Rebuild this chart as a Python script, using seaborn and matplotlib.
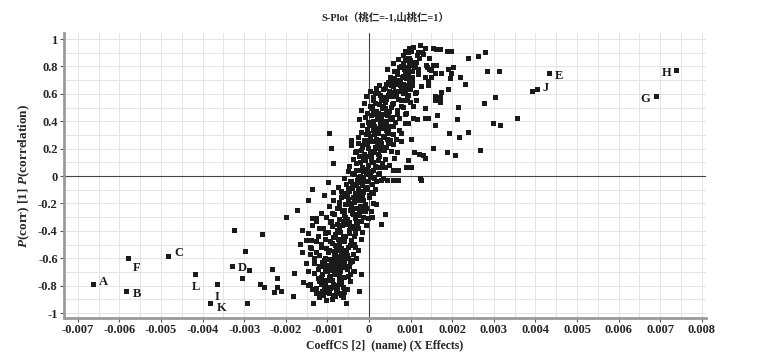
import matplotlib
matplotlib.use("Agg")
import matplotlib.pyplot as plt
import matplotlib.ticker as mticker
import numpy as np
import pandas as pd
import seaborn as sns

# x values are CoeffCS in units of 1e-3, y values are p(corr)
# lower tail of the S (y < -0.85)
tail_low_x = [-1.34, -1.18, -1.10, -1.02, -0.95, -0.88, -0.80, -0.72, -0.62, -0.54, -1.25, -0.98, -0.85, -0.66]
tail_low_y = [-0.93, -0.89, -0.87, -0.91, -0.86, -0.90, -0.88, -0.86, -0.89, -0.93, -0.86, -0.85, -0.87, -0.87]

core_n8_x = [-1.57, -1.45, -1.35, -1.27, -1.20, -1.12, -1.05, -0.98, -0.92, -0.85, -0.78, -0.70, -0.62, -0.52, -0.45,
             -1.15, -1.00, -0.88, -0.75, -0.95, -1.08, -0.65, -0.23]
core_n8_y = [-0.78, -0.80, -0.83, -0.82, -0.77, -0.84, -0.80, -0.76, -0.82, -0.79, -0.84, -0.78, -0.81, -0.83, -0.77,
             -0.79, -0.84, -0.76, -0.80, -0.81, -0.78, -0.76, -0.84]

core_n7_x = [-1.45, -1.30, -1.22, -1.14, -1.05, -0.98, -0.92, -0.86, -0.80, -0.74, -0.68, -0.60, -0.52, -0.44, -0.36,
             -1.10, -0.95, -0.82, -0.70, -0.58, -1.00, -0.77, -0.88, -0.48, -0.19]
core_n7_y = [-0.70, -0.71, -0.68, -0.74, -0.70, -0.66, -0.73, -0.69, -0.72, -0.66, -0.70, -0.74, -0.68, -0.72, -0.70,
             -0.66, -0.74, -0.67, -0.73, -0.66, -0.70, -0.69, -0.65, -0.66, -0.72]

core_n6_x = [-1.50, -1.41, -1.30, -1.20, -1.12, -1.05, -0.98, -0.90, -0.84, -0.78, -0.72, -0.66, -0.60, -0.52, -0.45,
             -0.38, -0.30, -0.95, -0.80, -0.68, -0.56, -1.00, -0.74, -0.62]
core_n6_y = [-0.64, -0.57, -0.62, -0.58, -0.63, -0.60, -0.56, -0.62, -0.58, -0.64, -0.59, -0.55, -0.62, -0.58, -0.63,
             -0.57, -0.60, -0.61, -0.56, -0.63, -0.55, -0.65, -0.61, -0.58]

core_n5_x = [-1.65, -1.51, -1.38, -1.25, -1.15, -1.05, -0.96, -0.88, -0.80, -0.73, -0.66, -0.58, -0.50, -0.42, -0.34,
             -0.26, -0.18, -0.85, -0.70, -0.55, -0.62, -0.45, -0.78, -0.92]
core_n5_y = [-0.50, -0.47, -0.53, -0.48, -0.52, -0.46, -0.54, -0.49, -0.51, -0.46, -0.53, -0.48, -0.52, -0.47, -0.50,
             -0.54, -0.46, -0.45, -0.49, -0.54, -0.45, -0.51, -0.54, -0.48]

core_n4_x = [-1.59, -1.46, -1.36, -1.22, -1.10, -0.98, -0.88, -0.80, -0.72, -0.64, -0.56, -0.48, -0.40, -0.32, -0.24,
             -0.15, -0.06, -0.75, -0.60, -0.45, -0.52, -0.35, -0.68, -0.28, 0.29]
core_n4_y = [-0.40, -0.42, -0.36, -0.44, -0.38, -0.41, -0.37, -0.43, -0.39, -0.36, -0.44, -0.40, -0.37, -0.42, -0.38,
             -0.41, -0.36, -0.35, -0.45, -0.38, -0.35, -0.44, -0.41, -0.36, -0.35]

core_n3_x = [-1.71, -1.36, -1.27, -1.15, -1.02, -0.92, -0.82, -0.72, -0.64, -0.56, -0.48, -0.40, -0.33, -0.25, -0.17,
             -0.08, 0.00, -0.60, -0.44, -0.30, -0.52, -0.20, -0.36, -0.12, 0.09, 0.39, -1.99]
core_n3_y = [-0.25, -0.31, -0.33, -0.27, -0.30, -0.34, -0.28, -0.32, -0.26, -0.30, -0.34, -0.27, -0.31, -0.29, -0.33,
             -0.26, -0.31, -0.29, -0.25, -0.34, -0.32, -0.26, -0.28, -0.30, -0.30, -0.28, -0.30]

core_n2_x = [-1.46, -1.07, -0.95, -0.85, -0.75, -0.65, -0.57, -0.49, -0.41, -0.34, -0.27, -0.20, -0.13, -0.06, 0.02,
             0.10, -0.45, -0.30, -0.16, -0.38, -0.55, -0.24, -0.09, -0.70, 0.18]
core_n2_y = [-0.18, -0.14, -0.22, -0.18, -0.24, -0.16, -0.21, -0.17, -0.23, -0.19, -0.15, -0.22, -0.18, -0.24, -0.16,
             -0.20, -0.20, -0.24, -0.15, -0.16, -0.15, -0.18, -0.21, -0.19, -0.21]

core_n1_x = [-1.35, -0.97, -0.85, -0.74, -0.64, -0.55, -0.47, -0.40, -0.33, -0.26, -0.19, -0.12, -0.05, 0.02, 0.09,
             0.16, -0.36, -0.22, -0.08, -0.50, 0.05, -0.29, -0.15, -0.60]
core_n1_y = [-0.10, -0.05, -0.12, -0.08, -0.14, -0.06, -0.11, -0.07, -0.13, -0.09, -0.05, -0.12, -0.08, -0.14, -0.06,
             -0.10, -0.06, -0.13, -0.10, -0.09, -0.12, -0.07, -0.11, -0.13]

core_0_x = [-0.60, -0.50, -0.42, -0.35, -0.28, -0.21, -0.14, -0.07, 0.00, 0.07, 0.14, 0.22, 0.30, 0.45, 0.58,
            0.70, -0.30, -0.10, 0.10, -0.20, 0.18, 0.35, 0.04, -0.45, -0.04, 0.58, 0.71, 1.27, 1.25]
core_0_y = [-0.02, 0.03, -0.04, 0.01, -0.03, 0.04, -0.01, 0.02, -0.04, 0.03, -0.02, 0.01, -0.03, -0.03, -0.03,
            -0.03, 0.04, -0.04, 0.04, 0.00, -0.04, -0.02, 0.00, -0.04, 0.05, 0.04, 0.04, -0.03, -0.02]

core_p1_x = [-0.46, -0.38, -0.30, -0.23, -0.16, -0.09, -0.02, 0.05, 0.12, 0.19, 0.26, 0.33, 0.40, 0.50, -0.20,
             0.00, 0.15, 0.30, -0.12, 0.08, 0.22, 0.62, -0.86]
core_p1_y = [0.07, 0.12, 0.09, 0.14, 0.06, 0.11, 0.08, 0.13, 0.10, 0.06, 0.14, 0.09, 0.12, 0.08, 0.10,
             0.14, 0.07, 0.06, 0.13, 0.10, 0.11, 0.13, 0.09]

core_p2_x = [-0.41, -0.32, -0.25, -0.18, -0.11, -0.04, 0.03, 0.10, 0.17, 0.24, 0.31, 0.38, 0.46, 0.55, 0.68,
             0.77, -0.15, 0.05, 0.20, 0.35, 0.00, 0.13, 0.27, 0.42, -0.91, 0.69]
core_p2_y = [0.22, 0.17, 0.24, 0.19, 0.16, 0.23, 0.18, 0.25, 0.20, 0.16, 0.22, 0.19, 0.24, 0.18, 0.17,
             0.25, 0.21, 0.16, 0.23, 0.20, 0.20, 0.17, 0.19, 0.21, 0.20, 0.17]

core_p3_x = [-0.25, -0.18, -0.11, -0.04, 0.03, 0.10, 0.17, 0.24, 0.31, 0.38, 0.45, 0.52, 0.60, 0.78, -0.07,
             0.07, 0.21, 0.35, 0.48, 0.14, 0.28, 0.00, 0.66, 0.41, -0.94, -0.41]
core_p3_y = [0.28, 0.32, 0.26, 0.34, 0.29, 0.33, 0.27, 0.31, 0.35, 0.28, 0.32, 0.26, 0.30, 0.31, 0.30,
             0.25, 0.34, 0.29, 0.34, 0.30, 0.26, 0.31, 0.27, 0.33, 0.31, 0.26]

core_p4_x = [-0.23, -0.15, -0.08, -0.01, 0.06, 0.13, 0.20, 0.27, 0.34, 0.41, 0.48, 0.56, 0.64, 0.73, 0.87,
             0.96, 0.02, 0.16, 0.30, 0.44, 0.10, 0.23, 0.38, 0.52]
core_p4_y = [0.41, 0.37, 0.43, 0.39, 0.44, 0.36, 0.41, 0.38, 0.45, 0.40, 0.36, 0.43, 0.39, 0.42, 0.38,
             0.38, 0.37, 0.45, 0.42, 0.44, 0.40, 0.35, 0.36, 0.41]

core_p5_x = [-0.17, -0.10, -0.03, 0.04, 0.11, 0.18, 0.25, 0.32, 0.39, 0.46, 0.53, 0.60, 0.68, 0.78, 0.90,
             0.99, 0.08, 0.22, 0.36, 0.50, 0.15, 0.29, 0.43, 0.57]
core_p5_y = [0.48, 0.53, 0.46, 0.51, 0.55, 0.47, 0.52, 0.49, 0.54, 0.46, 0.50, 0.53, 0.48, 0.51, 0.46,
             0.54, 0.49, 0.46, 0.51, 0.47, 0.53, 0.55, 0.47, 0.52]

core_p6_x = [-0.05, 0.03, 0.11, 0.19, 0.27, 0.35, 0.43, 0.51, 0.59, 0.67, 0.75, 0.83, 0.92, 0.99, 0.23,
             0.39, 0.55, 0.71, 0.15, 0.47, 0.63, 0.79]
core_p6_y = [0.58, 0.62, 0.57, 0.64, 0.59, 0.63, 0.56, 0.61, 0.65, 0.58, 0.62, 0.60, 0.57, 0.63, 0.60,
             0.64, 0.58, 0.56, 0.60, 0.59, 0.62, 0.64]

core_p7_x = [0.26, 0.41, 0.52, 0.60, 0.68, 0.76, 0.84, 0.90, 0.98, 1.05, 0.55, 0.72, 0.88, 0.64, 0.80, 0.95, 0.83]
core_p7_y = [0.66, 0.67, 0.72, 0.68, 0.74, 0.70, 0.73, 0.66, 0.71, 0.69, 0.66, 0.67, 0.75, 0.70, 0.72, 0.74, 0.67]

core_p8_x = [0.45, 0.58, 0.68, 0.78, 0.88, 0.95, 1.03, 1.12, 0.72, 0.85, 1.00, 0.62, 0.87, 0.92, 0.82, 0.74, 0.90]
core_p8_y = [0.78, 0.82, 0.76, 0.80, 0.84, 0.77, 0.81, 0.79, 0.85, 0.78, 0.84, 0.76, 0.91, 0.86, 0.82, 0.79, 0.79]

# extra points that thicken the core of the S
fill_low_x = [-1.28, -1.16, -1.06, -0.96, -0.86, -0.76, -0.66, -0.58,
              -1.22, -1.12, -1.02, -0.92, -0.82, -0.72, -0.62, -0.50,
              -1.32, -1.18, -1.08, -0.99, -0.89, -0.79, -0.69, -0.59, -0.49, -0.40,
              -1.40, -1.25, -1.13, -1.03, -0.93, -0.83, -0.73, -0.63, -0.53, -0.43, -0.33,
              -1.20, -1.04, -0.90, -0.76, -0.62, -0.48, -0.34, -0.20]
fill_low_y = [-0.83, -0.86, -0.82, -0.84, -0.81, -0.83, -0.79, -0.85,
              -0.75, -0.72, -0.76, -0.69, -0.71, -0.76, -0.67, -0.73,
              -0.60, -0.66, -0.62, -0.68, -0.64, -0.60, -0.62, -0.66, -0.60, -0.62,
              -0.52, -0.56, -0.50, -0.53, -0.48, -0.55, -0.51, -0.47, -0.55, -0.49, -0.52,
              -0.38, -0.42, -0.33, -0.40, -0.33, -0.42, -0.38, -0.33]

fill_mid_x = [-0.88, -0.70, -0.58, -0.46, -0.34, -0.22, -0.10, 0.06,
              -0.66, -0.52, -0.40, -0.28, -0.16, -0.04, 0.12,
              -0.40, -0.25, -0.12, 0.00, 0.12, 0.25, 0.40,
              -0.30, -0.15, 0.02, 0.16, 0.30, 0.45, 0.58]
fill_mid_y = [-0.27, -0.22, -0.25, -0.21, -0.24, -0.27, -0.23, -0.26,
              -0.11, -0.14, -0.09, -0.13, -0.07, -0.10, -0.13,
              0.02, -0.01, 0.03, 0.01, -0.01, 0.02, 0.06,
              0.18, 0.22, 0.26, 0.21, 0.24, 0.27, 0.23]

fill_high_x = [0.05, 0.18, 0.32, 0.46, 0.60, 0.74, 0.88,
               0.12, 0.26, 0.40, 0.54, 0.68, 0.82,
               0.35, 0.49, 0.63, 0.77, 0.91, 1.05,
               0.48, 0.62, 0.76, 0.90, 1.04, 1.18,
               0.70, 0.84, 0.98, 1.12, 1.30,
               0.98, 1.08, 1.16, 1.28, 1.45]
fill_high_y = [0.37, 0.33, 0.39, 0.31, 0.36, 0.33, 0.45,
               0.47, 0.43, 0.49, 0.42, 0.45, 0.50,
               0.57, 0.62, 0.60, 0.55, 0.63, 0.66,
               0.68, 0.71, 0.66, 0.71, 0.72, 0.74,
               0.85, 0.88, 0.86, 0.83, 0.89,
               0.93, 0.94, 0.88, 0.90, 0.86]

# upper right arm of the S
tail_high_x = [1.25, 1.35, 1.56, 1.63, 1.73, 1.03, 1.18, 0.94, 1.89, 1.99, 2.39, 2.63, 2.79, 2.85, 3.13,
               3.05, 2.77, 3.57, 3.00, 3.15, 2.15, 2.12, 2.40, 1.94, 2.18, 2.69, 1.88, 2.08, 1.54, 1.22,
               1.31, 1.35, 1.09, 0.96, 1.03, 0.90, 1.65, 1.59, 1.35, 1.44, 1.17, 1.07, 1.03, 0.96, 1.35,
               1.08, 1.15, 1.11, 1.59, 1.73, 1.75, 1.73, 1.60, 1.92, 2.32, 2.21, 1.97, 1.75, 1.92, 1.99,
               2.04, 1.42, 1.27, 1.42, 1.35, 1.51, 1.41, 1.51, 1.59, 1.46, 1.39, 1.56, 1.63, 0.88, 1.03,
               1.17, 0.93, 1.15, 0.98, 0.93, 1.03, 0.88, 0.96, 1.15, 0.90, 1.10, 1.22, 1.05, 0.98, 1.20,
               0.78, 0.77]
tail_high_y = [0.95, 0.93, 0.93, 0.92, 0.92, 0.91, 0.90, 0.90, 0.91, 0.91, 0.86, 0.87, 0.90, 0.76, 0.76,
               0.57, 0.53, 0.42, 0.38, 0.37, 0.50, 0.41, 0.32, 0.31, 0.28, 0.19, 0.17, 0.15, 0.20, 0.16,
               0.15, 0.13, 0.17, 0.11, 0.06, 0.06, 0.44, 0.37, 0.42, 0.42, 0.41, 0.42, 0.27, 0.38, 0.49,
               0.51, 0.55, 0.60, 0.58, 0.57, 0.61, 0.54, 0.55, 0.63, 0.67, 0.72, 0.71, 0.75, 0.78, 0.75,
               0.79, 0.66, 0.65, 0.69, 0.72, 0.72, 0.79, 0.77, 0.75, 0.78, 0.81, 0.81, 0.81, 0.79, 0.83,
               0.88, 0.85, 0.83, 0.69, 0.65, 0.67, 0.60, 0.59, 0.61, 0.55, 0.80, 0.86, 0.76, 0.82, 0.78,
               0.31, 0.25]

# lower left arm of the S
tail_left_x = [-1.35, -0.97, -1.07, -1.46, -1.71, -1.99, -1.27, -3.24, -2.55, -2.96, -2.88, -3.05, -2.61, -2.50,
               -2.31, -2.19, -2.19, -2.26, -2.10, -2.92, -1.81, -1.80, -1.57, -1.34, -1.59, -1.46, -1.65, -1.51,
               -1.38, -1.59, -1.41, -1.36, -1.30, -1.30, -1.41, -1.27, -1.14, -0.54, -0.25, -0.23]
tail_left_y = [-0.10, -0.05, -0.14, -0.18, -0.25, -0.30, -0.31, -0.40, -0.43, -0.55, -0.69, -0.75, -0.79, -0.81,
               -0.68, -0.75, -0.81, -0.85, -0.84, -0.93, -0.88, -0.71, -0.78, -0.93, -0.40, -0.42, -0.50, -0.47,
               -0.47, -0.56, -0.57, -0.36, -0.64, -0.71, -0.79, -0.82, -0.87, -0.93, 0.28, 0.41]

# named variables
named_labels = ["A", "B", "F", "C", "L", "I", "K", "D", "E", "J", "H", "G"]
named_x = [-6.63, -5.82, -5.77, -4.81, -4.18, -3.65, -3.80, -3.29, 4.33, 4.04, 7.40, 6.90]
named_y = [-0.79, -0.84, -0.60, -0.59, -0.72, -0.79, -0.93, -0.66, 0.75, 0.63, 0.77, 0.58]
extra_x = [3.92]
extra_y = [0.62]

groups_x = [tail_low_x, core_n8_x, core_n7_x, core_n6_x, core_n5_x, core_n4_x, core_n3_x, core_n2_x, core_n1_x,
            core_0_x, core_p1_x, core_p2_x, core_p3_x, core_p4_x, core_p5_x, core_p6_x, core_p7_x, core_p8_x,
            fill_low_x, fill_mid_x, fill_high_x, tail_high_x, tail_left_x, named_x, extra_x]
groups_y = [tail_low_y, core_n8_y, core_n7_y, core_n6_y, core_n5_y, core_n4_y, core_n3_y, core_n2_y, core_n1_y,
            core_0_y, core_p1_y, core_p2_y, core_p3_y, core_p4_y, core_p5_y, core_p6_y, core_p7_y, core_p8_y,
            fill_low_y, fill_mid_y, fill_high_y, tail_high_y, tail_left_y, named_y, extra_y]

df = pd.DataFrame({
    "coeff": np.concatenate([np.array(g, dtype=float) for g in groups_x]) / 1000.0,
    "pcorr": np.concatenate([np.array(g, dtype=float) for g in groups_y]),
})

sns.set_style("white")
plt.rcParams["font.family"] = ["Liberation Serif", "Noto Sans CJK SC"]
plt.rcParams["font.weight"] = "bold"
plt.rcParams["axes.unicode_minus"] = False
plt.rcParams["mathtext.fontset"] = "custom"
plt.rcParams["mathtext.it"] = "Liberation Serif:italic:bold"
plt.rcParams["mathtext.rm"] = "Liberation Serif:bold"

fig = plt.figure(figsize=(7.69, 3.57), dpi=100)
ax = fig.add_axes([64 / 769, 1 - 318 / 357, (706 - 64) / 769, (318 - 33) / 357])

ax.axvline(0, color="#444444", lw=0.8, zorder=1)
ax.axhline(0, color="#444444", lw=0.8, zorder=1)

sns.scatterplot(data=df, x="coeff", y="pcorr", ax=ax, marker="s", s=13, color="#1a1a1a",
                edgecolor="none", linewidth=0, zorder=3)

offsets = {"A": (4, 2, "left"), "B": (4, -2, "left"), "F": (3, -7, "left"), "C": (4, 3, "left"),
           "L": (-2, -9, "left"), "I": (-2, -9, "left"), "K": (4, -3, "left"), "D": (4, -1, "left"),
           "E": (4, -2, "left"), "J": (4, 1, "left"), "H": (-4, -2, "right"), "G": (-4, -2, "right")}
for lab, xv, yv in zip(named_labels, named_x, named_y):
    dx, dy, ha = offsets[lab]
    ax.annotate(lab, (xv / 1000.0, yv), xytext=(dx, dy), textcoords="offset points",
                ha=ha, va="center", fontsize=9, fontweight="bold", color="#1a1a1a")

ax.set_xlim(-0.00733, 0.0081)
ax.set_ylim(-1.036, 1.044)
ax.xaxis.set_major_locator(mticker.MultipleLocator(0.001))
ax.xaxis.set_minor_locator(mticker.MultipleLocator(0.0005))
ax.yaxis.set_major_locator(mticker.MultipleLocator(0.2))
ax.yaxis.set_minor_locator(mticker.MultipleLocator(0.1))
ax.xaxis.set_major_formatter(mticker.FuncFormatter(lambda v, p: "{:g}".format(round(v, 4))))
ax.yaxis.set_major_formatter(mticker.FuncFormatter(lambda v, p: "{:g}".format(round(v, 2))))
ax.grid(True, which="both", color="#e4e4e4", lw=0.7, zorder=0)
ax.set_axisbelow(True)
ax.tick_params(which="major", direction="out", length=3, width=0.8, color="#555555",
               labelsize=9, pad=1.5, bottom=True, left=True)
ax.tick_params(which="minor", length=0)

for side in ["top", "right"]:
    ax.spines[side].set_visible(False)
for side in ["left", "bottom"]:
    ax.spines[side].set_color("#9a9a9a")
    ax.spines[side].set_linewidth(2)

ax.set_title("S-Plot（桃仁=-1,山桃仁=1）", fontsize=7.5, fontweight="bold", pad=9)
ax.set_xlabel("CoeffCS [2]  (name) (X Effects)", fontsize=8.5, fontweight="bold", labelpad=2)
ax.set_ylabel("$P$(corr) [1] $P$(correlation)", fontsize=9.5, fontweight="bold", labelpad=4)

fig.savefig("out.png", dpi=100)
